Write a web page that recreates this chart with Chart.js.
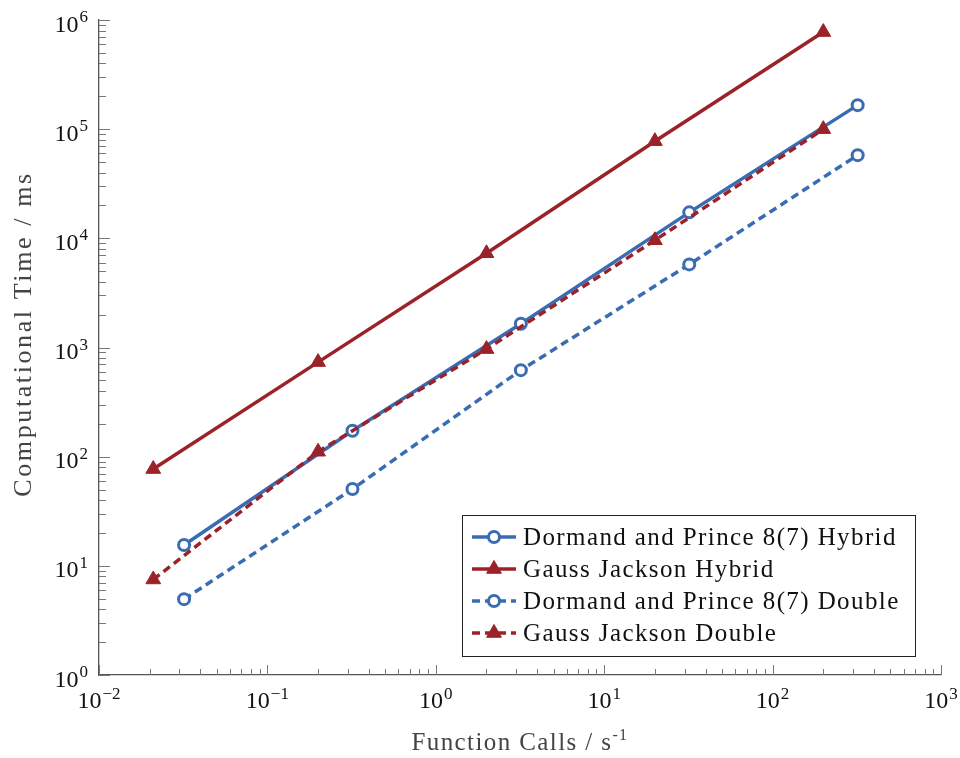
<!DOCTYPE html>
<html>
<head>
<meta charset="utf-8">
<script src="https://cdn.jsdelivr.net/npm/chart.js@4.4.0/dist/chart.umd.min.js"></script>
<style>
  html,body{margin:0;padding:0;background:#fff}
  #chart{display:block}
</style>
</head>
<body>
<canvas id="chart" width="960" height="758"></canvas>
<script>
// ── Data ──
var dpCalls=[0.032,0.32,3.2,32,320];
var gjCalls=[0.021,0.2,2,20,200];
var dpHybrid=[15.5,173,1650,17300,166000];
var gjHybrid=[77,735,7300,77600,775000];
var dpDouble=[4.95,50.5,620,5770,57800];
var gjDouble=[7.5,111,967,9600,100000];
var xTickExps=[-2,-1,0,1,2,3];
var yTickExps=[0,1,2,3,4,5,6];
var seriesNames=['Dormand and Prince 8(7) Hybrid','Gauss Jackson Hybrid','Dormand and Prince 8(7) Double','Gauss Jackson Double'];
var xTitle='Function Calls / s';
var xTitleSup='-1';
var yTitle='Computational Time / ms';

var BLUE='#3a6cb4', RED='#9b2228';
var FONT='"Liberation Serif", "DejaVu Serif", serif';

function pts(xs,ys){return xs.map(function(x,i){return {x:x,y:ys[i]}})}

var styles=[
  {color:BLUE,dash:[],shape:'circle'},
  {color:RED,dash:[],shape:'triangle'},
  {color:BLUE,dash:[8,5],shape:'circle'},
  {color:RED,dash:[8,5],shape:'triangle'}
];
var seriesData=[pts(dpCalls,dpHybrid),pts(gjCalls,gjHybrid),pts(dpCalls,dpDouble),pts(gjCalls,gjDouble)];

var datasets=seriesData.map(function(d,i){
  var s=styles[i];
  var circ=s.shape==='circle';
  return {
    label:seriesNames[i],data:d,
    borderColor:s.color,borderWidth:3.5,borderDash:s.dash,
    pointStyle:s.shape,pointRadius:circ?5.5:8.5,pointHoverRadius:circ?5.5:8.5,
    pointBorderWidth:circ?3:1,pointBorderColor:s.color,
    pointBackgroundColor:circ?'#fff':s.color,
    fill:false,tension:0,order:4-i
  };
});

// ── pgfplots-style axes: inward ticks, 10^n labels, titles, legend box ──
function powLabel(ctx,exp,x,y,align){
  var es=exp<0?'\u2212'+(-exp):String(exp);
  ctx.font='24px '+FONT;
  var bw=ctx.measureText('10').width;
  ctx.font='17px '+FONT;
  var ew=ctx.measureText(es).width;
  var total=bw+1+ew;
  var left=align==='right'?x-total:x-total/2;
  ctx.textAlign='left';ctx.textBaseline='alphabetic';
  ctx.font='24px '+FONT;ctx.fillText('10',left,y);
  ctx.font='17px '+FONT;ctx.fillText(es,left+bw+1,y-9.5);
}

var axesPlugin={
  id:'pgfAxes',
  afterDraw:function(chart){
    var ctx=chart.ctx, a=chart.chartArea, xs=chart.scales.x, ys=chart.scales.y;
    ctx.save();
    // ticks
    ctx.strokeStyle='#777';ctx.lineWidth=1;
    var e,m,p;
    for(e=xTickExps[0];e<=xTickExps[xTickExps.length-1];e++){
      p=Math.round(xs.getPixelForValue(Math.pow(10,e)))+0.5;
      ctx.beginPath();ctx.moveTo(p,a.bottom);ctx.lineTo(p,a.bottom-10);ctx.stroke();
      if(e<xTickExps[xTickExps.length-1]){
        for(m=2;m<10;m++){
          p=Math.round(xs.getPixelForValue(m*Math.pow(10,e)))+0.5;
          ctx.beginPath();ctx.moveTo(p,a.bottom);ctx.lineTo(p,a.bottom-6);ctx.stroke();
        }
      }
    }
    for(e=yTickExps[0];e<=yTickExps[yTickExps.length-1];e++){
      p=Math.round(ys.getPixelForValue(Math.pow(10,e)))+0.5;
      ctx.beginPath();ctx.moveTo(a.left,p);ctx.lineTo(a.left+11,p);ctx.stroke();
      if(e<yTickExps[yTickExps.length-1]){
        for(m=2;m<10;m++){
          p=Math.round(ys.getPixelForValue(m*Math.pow(10,e)))+0.5;
          ctx.beginPath();ctx.moveTo(a.left,p);ctx.lineTo(a.left+7,p);ctx.stroke();
        }
      }
    }
    // tick labels
    ctx.fillStyle='#111';
    xTickExps.forEach(function(ex){powLabel(ctx,ex,xs.getPixelForValue(Math.pow(10,ex)),a.bottom+33,'center')});
    yTickExps.forEach(function(ex){powLabel(ctx,ex,a.left-11,ys.getPixelForValue(Math.pow(10,ex))+11.5,'right')});
    // axis titles
    ctx.fillStyle='#444';
    ctx.letterSpacing='1.4px';
    ctx.font='25px '+FONT;
    var tw=ctx.measureText(xTitle).width;
    ctx.font='16px '+FONT;
    var sw=ctx.measureText(xTitleSup).width;
    var tx=(a.left+a.right)/2-(tw+sw)/2;
    ctx.textAlign='left';
    ctx.font='25px '+FONT;ctx.fillText(xTitle,tx,750);
    ctx.font='16px '+FONT;ctx.fillText(xTitleSup,tx+tw,740);
    ctx.save();
    ctx.translate(31,334);ctx.rotate(-Math.PI/2);
    ctx.letterSpacing='2.6px';
    ctx.font='26px '+FONT;ctx.textAlign='center';ctx.fillText(yTitle,0,0);
    ctx.restore();
    // legend
    var lx=462,ly=515,lw=453,lh=141;
    ctx.letterSpacing='0px';
    ctx.fillStyle='#fff';ctx.fillRect(lx,ly,lw,lh);
    ctx.strokeStyle='#222';ctx.lineWidth=1;ctx.setLineDash([]);
    ctx.strokeRect(lx+0.5,ly+0.5,lw,lh);
    seriesNames.forEach(function(name,i){
      var s=styles[i], cy=537+i*32;
      ctx.strokeStyle=s.color;ctx.lineWidth=3.5;ctx.setLineDash(s.dash);
      ctx.beginPath();ctx.moveTo(472,cy);ctx.lineTo(516,cy);ctx.stroke();
      ctx.setLineDash([]);
      var circ=s.shape==='circle';
      ctx.fillStyle=circ?'#fff':s.color;ctx.strokeStyle=s.color;ctx.lineWidth=circ?3:1;
      Chart.helpers.drawPoint(ctx,{pointStyle:s.shape,radius:circ?5.5:8.5,rotation:0,borderWidth:circ?3:1},494,cy);
      ctx.fillStyle='#111';ctx.font='25px '+FONT;ctx.textAlign='left';ctx.textBaseline='alphabetic';
      ctx.letterSpacing='1.4px';
      ctx.fillText(name,523,cy+8);
      ctx.letterSpacing='0px';
    });
    ctx.restore();
  }
};

new Chart(document.getElementById('chart'),{
  type:'line',
  data:{datasets:datasets},
  options:{
    responsive:false,animation:false,devicePixelRatio:1,
    layout:{padding:{left:99,right:19,top:20,bottom:83}},
    plugins:{legend:{display:false},tooltip:{enabled:false}},
    scales:{
      x:{type:'logarithmic',min:0.01,max:1000,
        ticks:{display:false},
        grid:{display:true,drawOnChartArea:false,drawTicks:false},
        border:{display:true,color:'#555',width:1.3}},
      y:{type:'logarithmic',min:1,max:1000000,
        ticks:{display:false},
        grid:{display:true,drawOnChartArea:false,drawTicks:false},
        border:{display:true,color:'#555',width:1.3}}
    }
  },
  plugins:[axesPlugin]
});
</script>
</body>
</html>
